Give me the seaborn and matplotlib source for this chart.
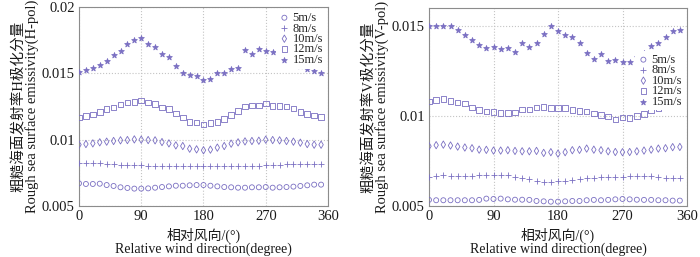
import numpy as np
import pandas as pd
import matplotlib
matplotlib.use('Agg')
import matplotlib.pyplot as plt
import seaborn as sns

# relative wind direction (deg), one point every 10 degrees
angles = list(range(0, 360, 10))
speeds = ['5m/s', '8m/s', '10m/s', '12m/s', '15m/s']

# H-pol emissivity component
h5 = [0.00671, 0.00666, 0.00666, 0.00668, 0.00658, 0.00651, 0.00641, 0.00636, 0.00631, 0.00631,
      0.00633, 0.00638, 0.00643, 0.00648, 0.00653, 0.00653, 0.00656, 0.00658, 0.00658, 0.00653,
      0.00648, 0.00643, 0.00641, 0.00638, 0.00638, 0.00641, 0.00641, 0.00643, 0.00638, 0.00641,
      0.00643, 0.00646, 0.00651, 0.00656, 0.00661, 0.00661]
h8 = [0.00822, 0.00824, 0.00824, 0.00822, 0.0082, 0.00815, 0.00812, 0.00812, 0.0081, 0.00807,
      0.00805, 0.00805, 0.00805, 0.00805, 0.00805, 0.00805, 0.00804, 0.00804, 0.00804, 0.00804,
      0.00804, 0.00804, 0.00804, 0.00804, 0.00804, 0.00805, 0.00805, 0.00807, 0.0081, 0.00812,
      0.00815, 0.00817, 0.0082, 0.0082, 0.0082, 0.0082]
h10 = [0.00962, 0.00967, 0.00972, 0.0098, 0.00985, 0.0099, 0.00995, 0.00997, 0.01002, 0.0100,
       0.00997, 0.00995, 0.00982, 0.00972, 0.00957, 0.00952, 0.00932, 0.00927, 0.0092, 0.00925,
       0.0094, 0.00952, 0.0097, 0.0098, 0.00987, 0.0099, 0.00992, 0.0100, 0.00997, 0.00995,
       0.0099, 0.00985, 0.00977, 0.00967, 0.00962, 0.00962]
h12 = [0.01166, 0.01178, 0.01191, 0.01209, 0.01231, 0.01244, 0.01266, 0.01281, 0.01284, 0.01294,
       0.01281, 0.01269, 0.01244, 0.01231, 0.01196, 0.01166, 0.01133, 0.01131, 0.01113, 0.01126,
       0.01133, 0.01156, 0.01188, 0.01216, 0.01249, 0.01259, 0.01256, 0.01271, 0.01254, 0.01254,
       0.01251, 0.01234, 0.01209, 0.01193, 0.01183, 0.01171]
h15 = [0.01513, 0.01523, 0.0154, 0.0156, 0.01593, 0.01638, 0.01668, 0.01719, 0.01749, 0.01764,
       0.01724, 0.01701, 0.01643, 0.01621, 0.01558, 0.01502, 0.01485, 0.01477, 0.0145, 0.01457,
       0.015, 0.01505, 0.0153, 0.01538, 0.01676, 0.01643, 0.01681, 0.01668, 0.01658, np.nan,
       np.nan, np.nan, 0.01558, 0.01533, 0.01518, 0.01505]

# V-pol emissivity component
v5 = [0.00534, 0.00532, 0.00532, 0.00532, 0.00532, 0.00532, 0.00532, 0.00534, 0.00541, 0.00539,
      0.00541, 0.00537, 0.00535, 0.00535, 0.00534, 0.00528, 0.00526, 0.00524, 0.00524, 0.00526,
      0.00528, 0.00528, 0.00532, 0.00534, 0.00532, 0.00534, 0.00537, 0.00539, 0.00537, 0.00535,
      0.00534, 0.00534, 0.00532, 0.00532, 0.0053, 0.0053]
v8 = [0.0066, 0.00668, 0.0067, 0.00664, 0.00664, 0.00664, 0.00668, 0.0067, 0.0067, 0.0067,
      0.00672, 0.0067, 0.00662, 0.00657, 0.00651, 0.0064, 0.00636, 0.00634, 0.00638, 0.0064,
      0.00647, 0.00651, 0.00655, 0.00657, 0.00659, 0.00659, 0.00659, 0.0066, 0.00666, 0.00664,
      0.00664, 0.00668, 0.0066, 0.00657, 0.00655, 0.00655]
v10 = [0.00832, 0.00838, 0.00841, 0.00836, 0.0083, 0.00825, 0.00821, 0.00813, 0.00812, 0.00808,
       0.00808, 0.0081, 0.00806, 0.00804, 0.00804, 0.00806, 0.00795, 0.00799, 0.00791, 0.00799,
       0.0081, 0.00812, 0.00819, 0.00813, 0.0081, 0.00804, 0.008, 0.00799, 0.008, 0.00804,
       0.00808, 0.00813, 0.00819, 0.00821, 0.00827, 0.00828]
v12 = [0.0108, 0.01088, 0.01093, 0.01082, 0.01075, 0.0107, 0.01047, 0.01032, 0.01024, 0.01022,
       0.01017, 0.01017, 0.0102, 0.01037, 0.01035, 0.01047, 0.01049, 0.01043, 0.01043, 0.01043,
       0.01032, 0.01028, 0.01024, 0.01015, 0.01006, 0.00996, 0.00981, 0.00991, 0.00989, 0.0100,
       0.01011, 0.0103, 0.01045, 0.0106, 0.01063, 0.01065]
v15 = [0.015, 0.015, 0.015, 0.015, 0.01476, 0.01452, 0.01424, 0.01397, 0.01379, 0.01383,
       0.01373, 0.01375, 0.01355, 0.01407, 0.01386, 0.01403, 0.01455, 0.015, 0.01472, 0.01452,
       0.01438, 0.01403, 0.01351, 0.01317, 0.01347, 0.01308, 0.0131, 0.01302, 0.01302, 0.01327,
       0.01349, 0.01388, 0.01407, 0.01437, 0.0147, 0.01478]

sns.set_theme(style='white')
plt.rcParams['font.family'] = ['Liberation Serif', 'Noto Sans CJK SC']
plt.rcParams['axes.unicode_minus'] = False

mc = '#7a6fc2'
markers = {'5m/s': 'o', '8m/s': '+', '10m/s': 'd', '12m/s': 's', '15m/s': '*'}
sizes = {'5m/s': 13, '8m/s': 16, '10m/s': 14, '12m/s': 16, '15m/s': 18}
hollow = {'5m/s': True, '8m/s': False, '10m/s': True, '12m/s': True, '15m/s': False}

fig = plt.figure(figsize=(7, 2.57), dpi=100)
ax1 = fig.add_axes([79 / 700, 51 / 257, 249 / 700, 199 / 257])
ax2 = fig.add_axes([429 / 700, 51 / 257, 258 / 700, 198 / 257])


def draw(ax, series, ylim, yticks, ylabels, ylabel, leg_loc, leg_anchor):
    for name, vals in zip(speeds, series):
        df = pd.DataFrame({'angle': angles, 'e': vals}).dropna()
        kw = dict(marker=markers[name], s=sizes[name], linewidth=0.6, label=name, ax=ax, zorder=3)
        if hollow[name]:
            kw.update(facecolor='none', edgecolor=mc)
        else:
            kw.update(color=mc, edgecolor=mc)
        sns.scatterplot(data=df, x='angle', y='e', **kw)
    ax.set_xlim(0, 360)
    ax.set_ylim(*ylim)
    ax.set_xticks([0, 90, 180, 270, 360])
    ax.set_yticks(yticks)
    ax.set_yticklabels(ylabels)
    ax.grid(True, linestyle=':', color='#c4c4c4', linewidth=0.8)
    for sp in ax.spines.values():
        sp.set_color('#8c8c8c')
        sp.set_linewidth(0.8)
    ax.tick_params(direction='in', length=3, color='#8c8c8c', labelsize=10.5,
                   labelcolor='#1a1a1a', pad=3)
    ax.set_xlabel('相对风向/(°)\nRelative wind direction(degree)', fontsize=10,
                  linespacing=1.0, color='#1a1a1a', labelpad=3)
    ax.set_ylabel(ylabel, fontsize=10.5, linespacing=0.95, color='#1a1a1a', labelpad=2)
    leg = ax.legend(loc=leg_loc, bbox_to_anchor=leg_anchor, fontsize=9, frameon=True,
                    facecolor='white', edgecolor='none', framealpha=1, borderpad=0.2,
                    labelspacing=-0.12, handletextpad=0.2, handlelength=0.9,
                    borderaxespad=0.2, fancybox=False)
    leg.set_zorder(5)


draw(ax1, [h5, h8, h10, h12, h15], (0.005, 0.02), [0.005, 0.01, 0.015, 0.02],
     ['0.005', '0.01', '0.015', '0.02'],
     '粗糙海面发射率H极化分量\nRough sea surface emissivity(H-pol)',
     'upper right', (1.0, 1.0))
draw(ax2, [v5, v8, v10, v12, v15], (0.005, 0.016), [0.005, 0.01, 0.015],
     ['0.005', '0.01', '0.015'],
     '粗糙海面发射率V极化分量\nRough sea surface emissivity(V-pol)',
     'lower right', (1.0, 0.47))

fig.savefig('out.png', dpi=100)
